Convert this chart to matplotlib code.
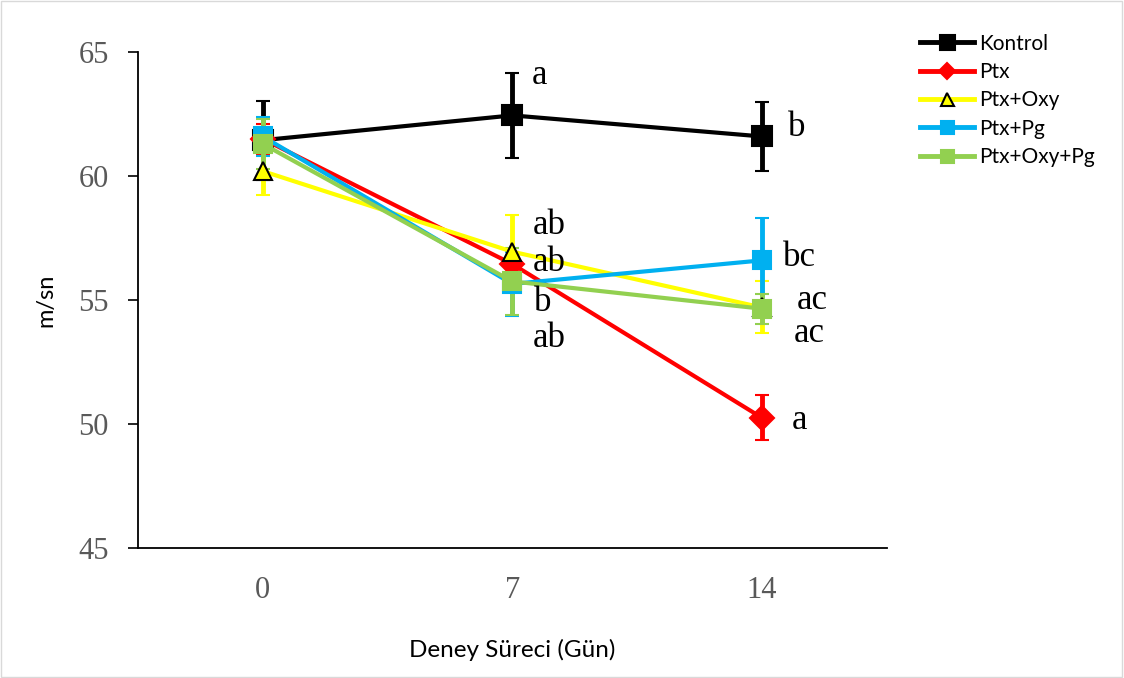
import numpy as np
import matplotlib.pyplot as plt
from matplotlib.patches import Rectangle
from matplotlib.lines import Line2D

days = ['0', '7', '14']

kontrol = [61.45, 62.45, 61.6]
kontrol_err = [1.6, 1.7, 1.4]
ptx = [61.5, 56.45, 50.25]
ptx_err = [0.6, 0.5, 0.9]
ptx_oxy = [60.2, 56.95, 54.7]
ptx_oxy_err = [0.95, 1.5, 1.05]
ptx_pg = [61.6, 55.65, 56.6]
ptx_pg_err = [0.8, 1.3, 1.7]
ptx_oxy_pg = [61.3, 55.75, 54.65]
ptx_oxy_pg_err = [1.0, 1.35, 0.6]

# significance letters: (day index, y, text)
letters = [(1, 64.05, 'a'), (2, 61.95, 'b'),
           (1, 58.0, 'ab'), (1, 56.5, 'ab'), (1, 54.9, 'b'), (1, 53.45, 'ab'),
           (2, 56.7, 'bc'), (2, 55.0, 'ac'), (2, 53.65, 'ac'), (2, 50.15, 'a')]
letter_dx = [0.11, 0.14, 0.15, 0.15, 0.12, 0.15, 0.15, 0.2, 0.19, 0.15]

fig = plt.figure(figsize=(11.24, 6.78), dpi=100)
ax = fig.add_axes([0.1228, 0.192, 0.666, 0.731])
fig.patches.append(Rectangle((0.001, 0.001), 0.997, 0.997, transform=fig.transFigure,
                             fill=False, edgecolor='#d9d9d9', lw=1))

x = np.arange(len(days))
series = [
    ('Kontrol', kontrol, kontrol_err, 'black', 's', 15, 'black'),
    ('Ptx', ptx, ptx_err, '#ff0000', 'D', 12, '#ff0000'),
    ('Ptx+Oxy', ptx_oxy, ptx_oxy_err, '#ffff00', '^', 13, 'black'),
    ('Ptx+Pg', ptx_pg, ptx_pg_err, '#00b0f0', 's', 13, '#00b0f0'),
    ('Ptx+Oxy+Pg', ptx_oxy_pg, ptx_oxy_pg_err, '#92d050', 's', 13, '#92d050'),
]
handles = []
for name, vals, err, col, mk, ms, mec in series:
    ax.errorbar(x, vals, yerr=err, color=col, lw=3, marker=mk, ms=ms,
                mfc=col, mec=mec, mew=1.5, ecolor=col, elinewidth=3.5,
                capsize=5, capthick=3.5)
    handles.append(Line2D([], [], color=col, lw=3.5, marker=mk, ms=ms * 0.72,
                          mfc=col, mec=mec, mew=1.5, label=name))

for (i, y, t), dx in zip(letters, letter_dx):
    ax.text(x[i] + dx, y, t, fontsize=25, family='Liberation Serif',
            ha='center', va='center', color='black')

ax.set_xlim(-0.5, 2.5)
ax.set_ylim(45, 65)
ax.set_yticks([45, 50, 55, 60, 65])
ax.set_xticks(x)
ax.set_xticklabels(days)
for lbl in ax.get_xticklabels() + ax.get_yticklabels():
    lbl.set_family('Liberation Serif')
    lbl.set_fontsize(22)
    lbl.set_color('#595959')
ax.tick_params(axis='x', length=0, pad=20)
ax.tick_params(axis='y', length=7, width=1.2, direction='out', pad=14)
ax.spines['top'].set_visible(False)
ax.spines['right'].set_visible(False)
ax.spines['left'].set_linewidth(1.3)
ax.spines['bottom'].set_linewidth(1.3)
ax.set_ylabel('m/sn', fontsize=17, family='Lato', labelpad=16)
ax.set_xlabel('Deney Süreci (Gün)', fontsize=17.5, family='Lato', labelpad=25)

ax.legend(handles=handles, loc='upper left', bbox_to_anchor=(1.019, 1.075),
          frameon=False, prop={'family': 'Lato', 'size': 15},
          handlelength=2.6, labelspacing=0.4, handletextpad=0.25)

fig.savefig('out.png', dpi=100)
